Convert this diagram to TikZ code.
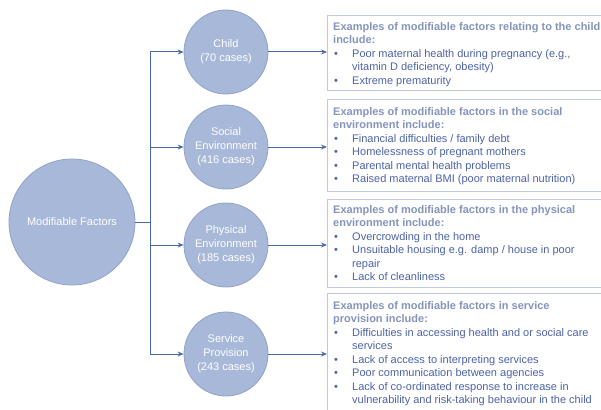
\documentclass[tikz,border=0pt]{standalone}
\usepackage{fontspec}
\setmainfont{Liberation Sans}
\usetikzlibrary{arrows.meta}
\definecolor{circfill}{HTML}{A8B8D8}
\definecolor{circline}{HTML}{8FA3C9}
\definecolor{linecol}{HTML}{4A69A8}
\definecolor{hdrcol}{HTML}{8494BA}
\definecolor{itemcol}{HTML}{4C62A6}
\definecolor{boxcol}{HTML}{BFCAE0}
\newcommand\myhd[1]{{\fontsize{11}{13.5}\selectfont\bfseries\color{hdrcol}#1}}
\newcommand\mybul{\makebox[19pt][l]{\hspace{1pt}\textbullet}}
\newcommand\myind{\hspace*{19pt}}
\begin{document}
\begin{tikzpicture}[x=1pt,y=-1pt,
  circ/.style={circle, fill=circfill, draw=circline, line width=0.8pt, text=white,
    align=center, font=\fontsize{11}{14}\selectfont, minimum size=84pt, inner sep=0pt},
  bigcirc/.style={circ, minimum size=126pt},
  boxnode/.style={draw=boxcol, line width=1.3pt, anchor=north west, minimum width=300pt, inner sep=0pt},
  txt/.style={anchor=north west, align=left, inner sep=0pt, font=\fontsize{11}{13.5}\selectfont, text=itemcol},
  arr/.style={draw=linecol, line width=1pt, -{Stealth[length=6pt,width=5pt]}},
  ln/.style={draw=linecol, line width=1pt}]
\useasboundingbox (0,0) rectangle (601,409);
\clip (0,0) rectangle (601,409);

\node[bigcirc] (mf) at (72,222) {Modifiable Factors};
\node[circ] (child) at (226,52) {Child\\(70 cases)};
\node[circ] (social) at (226,147) {Social\\Environment\\(416 cases)};
\node[circ] (phys) at (226,245) {Physical\\Environment\\(185 cases)};
\node[circ] (serv) at (226,354) {Service\\Provision\\(243 cases)};

\node[boxnode, minimum height=75pt] (cbox) at (327,15) {};
\node[boxnode, minimum height=92pt] (sbox) at (327,99) {};
\node[boxnode, minimum height=88pt] (pbox) at (327,199) {};
\node[boxnode, minimum height=140pt] (vbox) at (327,293) {};

\node[txt] (ctxt) at (333,22) {\myhd{Examples of modifiable factors relating to the child}\\
\myhd{include:}\\
\mybul Poor maternal health during pregnancy (e.g.,\\
\myind vitamin D deficiency, obesity)\\
\mybul Extreme prematurity};

\node[txt] (stxt) at (333,107) {\myhd{Examples of modifiable factors in the social}\\
\myhd{environment include:}\\
\mybul Financial difficulties / family debt\\
\mybul Homelessness of pregnant mothers\\
\mybul Parental mental health problems\\
\mybul Raised maternal BMI (poor maternal nutrition)};

\node[txt] (ptxt) at (333,205) {\myhd{Examples of modifiable factors in the physical}\\
\myhd{environment include:}\\
\mybul Overcrowding in the home\\
\mybul Unsuitable housing e.g. damp / house in poor\\
\myind repair\\
\mybul Lack of cleanliness};

\node[txt] (vtxt) at (333,301) {\myhd{Examples of modifiable factors in service}\\
\myhd{provision include:}\\
\mybul Difficulties in accessing health and or social care\\
\myind services\\
\mybul Lack of access to interpreting services\\
\mybul Poor communication between agencies\\
\mybul Lack of co-ordinated response to increase in\\
\myind vulnerability and risk-taking behaviour in the child};

\coordinate (trunk) at (150,222);
\draw[ln] (mf.east) -- (trunk);
\draw[arr] (trunk) |- (child.west);
\draw[arr] (trunk) |- (social.west);
\draw[arr] (trunk) |- (phys.west);
\draw[arr] (trunk) |- (serv.west);

\draw[arr] (child.east) -- (child.east -| cbox.west);
\draw[arr] (social.east) -- (social.east -| sbox.west);
\draw[arr] (phys.east) -- (phys.east -| pbox.west);
\draw[arr] (serv.east) -- (serv.east -| vbox.west);
\end{tikzpicture}
\end{document}
